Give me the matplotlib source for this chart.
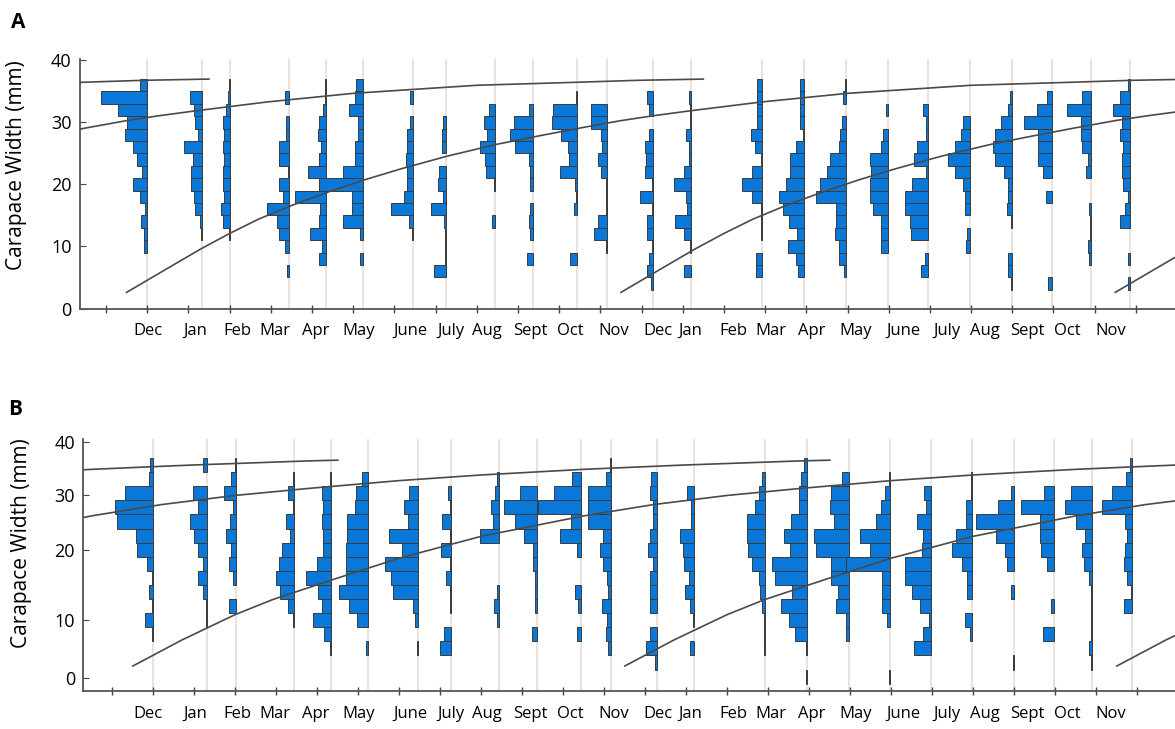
import matplotlib
matplotlib.use("Agg")
import matplotlib.pyplot as plt

# Carapace width classes (mm), 2 mm bins, class centres
size_bins = list(range(2, 38, 2))

months = ["Dec", "Jan", "Feb", "Mar", "Apr", "May", "June", "July",
          "Aug", "Sept", "Oct", "Nov"] * 2

# sampling dates, in months from the first tick of the time axis
sample_t = [1.0, 2.32, 3.02, 4.44, 5.34, 6.24, 7.46, 8.26, 9.44, 10.36, 11.44, 12.17,
            13.28, 14.2, 15.92, 16.94, 17.96, 18.98, 19.96, 20.98, 22.0, 22.96, 23.9, 24.86]

# frequencies per sample, from the 2 mm class up to the 36 mm class
freq_a = [
    [0, 0, 0, 0, 3, 3, 6, 2, 7, 14, 5, 10, 14, 22, 20, 29, 46, 7],
    [0, 0, 0, 0, 0, 1, 2, 7, 8, 11, 11, 9, 18, 4, 7, 8, 12, 0],
    [0, 0, 0, 0, 0, 1, 7, 9, 6, 7, 7, 6, 7, 6, 7, 4, 2, 1],
    [0, 0, 2, 0, 4, 10, 12, 22, 6, 10, 1, 10, 10, 3, 3, 0, 4, 0],
    [0, 0, 0, 7, 4, 16, 7, 6, 31, 7, 18, 7, 5, 8, 7, 3, 1, 1],
    [0, 0, 0, 3, 0, 3, 20, 11, 11, 44, 20, 8, 8, 5, 5, 14, 8, 7],
    [0, 0, 0, 0, 0, 1, 4, 22, 9, 6, 6, 7, 6, 6, 3, 0, 3, 0],
    [0, 0, 12, 1, 1, 1, 2, 15, 3, 8, 7, 0, 4, 4, 3, 0, 0, 0],
    [0, 0, 0, 0, 0, 0, 3, 0, 0, 1, 9, 10, 15, 8, 11, 6, 0, 0],
    [0, 0, 0, 6, 0, 3, 4, 3, 0, 3, 3, 4, 18, 23, 19, 4, 0, 0],
    [0, 0, 0, 7, 0, 0, 0, 3, 1, 2, 17, 8, 9, 16, 25, 24, 1, 0],
    [0, 0, 0, 0, 1, 13, 9, 1, 1, 1, 6, 9, 5, 6, 16, 16, 0, 0],
    [0, 2, 6, 4, 1, 6, 6, 1, 13, 1, 8, 7, 8, 4, 0, 4, 6, 0],
    [0, 0, 7, 0, 1, 7, 16, 4, 5, 17, 7, 2, 2, 5, 1, 1, 2, 0],
    [0, 0, 6, 6, 0, 1, 1, 1, 10, 20, 10, 1, 7, 11, 5, 5, 5, 5],
    [0, 0, 6, 8, 16, 7, 15, 21, 25, 18, 14, 14, 8, 1, 4, 4, 4, 4],
    [0, 0, 2, 7, 7, 11, 10, 10, 30, 26, 19, 16, 7, 6, 4, 0, 3, 1],
    [0, 0, 0, 0, 7, 7, 7, 15, 18, 18, 17, 18, 7, 5, 0, 2, 0, 0],
    [0, 0, 7, 3, 0, 17, 18, 23, 23, 16, 2, 14, 11, 2, 2, 5, 0, 0],
    [0, 0, 0, 0, 4, 3, 0, 5, 5, 7, 15, 22, 15, 9, 7, 0, 0, 0],
    [0, 1, 4, 4, 0, 0, 1, 5, 4, 4, 8, 17, 19, 17, 11, 4, 2, 0],
    [0, 4, 0, 0, 0, 0, 0, 0, 6, 0, 9, 14, 14, 14, 28, 15, 5, 0],
    [0, 0, 0, 2, 3, 1, 1, 2, 0, 0, 5, 3, 9, 10, 10, 24, 9, 0],
    [0, 2, 0, 2, 0, 0, 10, 5, 2, 7, 8, 8, 7, 10, 8, 17, 10, 2],
]

freq_b = [
    [0, 0, 0, 1, 8, 1, 4, 1, 6, 16, 17, 36, 38, 28, 4, 3, 0, 0],
    [0, 0, 0, 0, 1, 1, 4, 9, 4, 9, 13, 17, 9, 14, 0, 4, 0, 0],
    [0, 0, 0, 0, 0, 7, 0, 3, 7, 5, 10, 6, 3, 12, 5, 1, 0, 0],
    [0, 0, 0, 0, 1, 6, 14, 18, 15, 12, 4, 8, 1, 6, 1, 0, 0, 0],
    [0, 0, 1, 7, 18, 9, 13, 25, 14, 8, 8, 9, 8, 9, 1, 0, 0, 0],
    [0, 0, 2, 0, 11, 19, 29, 22, 22, 22, 21, 21, 13, 12, 6, 0, 0, 0],
    [0, 0, 1, 0, 3, 5, 25, 27, 33, 16, 29, 10, 14, 9, 0, 0, 0, 0],
    [0, 0, 11, 7, 0, 1, 1, 5, 1, 10, 1, 9, 1, 3, 0, 0, 0, 0],
    [0, 0, 0, 0, 2, 5, 2, 0, 0, 0, 19, 6, 8, 4, 2, 0, 0, 0],
    [0, 0, 0, 5, 0, 2, 2, 2, 4, 4, 13, 22, 33, 17, 0, 0, 0, 0],
    [0, 0, 0, 4, 0, 3, 6, 0, 0, 4, 21, 10, 44, 27, 9, 0, 0, 0],
    [0, 0, 3, 5, 4, 9, 3, 4, 8, 11, 8, 23, 23, 23, 5, 1, 0, 0],
    [0, 2, 11, 7, 0, 7, 7, 7, 4, 9, 7, 4, 4, 7, 6, 0, 0, 0],
    [0, 0, 5, 0, 1, 5, 10, 6, 11, 12, 15, 4, 3, 8, 0, 0, 0, 0],
    [0, 0, 1, 1, 1, 3, 5, 6, 13, 17, 18, 18, 10, 6, 3, 0, 0, 0],
    [1, 0, 1, 12, 18, 26, 15, 32, 35, 17, 23, 16, 8, 8, 6, 3, 0, 0],
    [0, 0, 0, 3, 3, 13, 11, 18, 18, 33, 35, 15, 19, 18, 7, 0, 0, 0],
    [1, 0, 0, 0, 3, 9, 9, 9, 45, 21, 31, 15, 10, 5, 1, 0, 0, 0],
    [0, 0, 17, 8, 2, 11, 19, 26, 26, 9, 8, 14, 5, 7, 0, 0, 0, 0],
    [0, 0, 0, 2, 8, 0, 5, 5, 11, 21, 17, 6, 6, 1, 1, 0, 0, 0],
    [0, 1, 0, 0, 0, 0, 3, 0, 7, 9, 18, 38, 16, 3, 0, 0, 0, 0],
    [0, 0, 0, 11, 0, 3, 0, 0, 7, 13, 14, 14, 33, 10, 0, 0, 0, 0],
    [0, 1, 3, 1, 1, 1, 1, 3, 8, 10, 7, 16, 27, 21, 0, 0, 0, 0],
    [0, 0, 0, 0, 0, 8, 1, 5, 8, 7, 5, 7, 30, 20, 6, 2, 0, 0],
]

# growth curve: age of cohort (months) vs carapace width (mm)
age_a = [0, 1.0, 1.8, 2.5, 3.2, 4.0, 4.9, 5.8, 6.7, 7.8, 9.0, 9.9, 11.0, 12.0,
         12.8, 13.7, 15.4, 17.5, 20.5, 23.0, 24.4, 26.0]
cw_a = [2.6, 6.5, 9.6, 12.1, 14.4, 16.6, 18.8, 20.8, 22.6, 24.6, 26.5, 27.7, 29.1, 30.3,
        31.1, 31.9, 33.3, 34.7, 36.0, 36.5, 36.8, 37.0]
age_b = [0, 1.2, 2.5, 3.4, 4.9, 6.5, 8.5, 11.0, 12.7, 14.5, 16.3, 18.5, 20.5, 23.0,
         25.4, 28.3, 29.0]
cw_b = [3.5, 7.2, 10.8, 12.9, 15.8, 18.8, 21.9, 24.8, 26.4, 27.7, 28.7, 29.8, 30.6, 31.4,
        32.0, 32.6, 32.7]

# recruitment date of each yearly cohort (months)
cohort_t = [-23.5, -11.5, 0.5, 12.5, 24.5]

W, H = 1175, 729
fig = plt.figure(figsize=(W / 100, H / 100), dpi=100)
plt.rcParams['font.family'] = ['Open Sans', 'DejaVu Sans']

BLUE = '#0a78d8'
px_per_month = 41.2


def panel(rect, xlim, ylim, freq, ages, cws, ytick_pos):
    ax = fig.add_axes(rect)
    for t in sample_t:
        ax.axvline(t, color='#e6dcdc', lw=1.2, zorder=0)
    for t, f in zip(sample_t, freq):
        for c, w in zip(size_bins, f):
            if w > 0:
                ax.barh(c, -w / px_per_month, left=t, height=2, color=BLUE,
                        edgecolor='#3a3a3a', linewidth=0.7, zorder=2)
    for t0 in cohort_t:
        ax.plot([t0 + a for a in ages], cws, color='#4a4a4a', lw=1.2, zorder=3)
    ax.set_xlim(*xlim)
    ax.set_ylim(*ylim)
    ax.set_xticks(range(0, 26))
    ax.set_xticklabels([])
    ax.set_yticks(ytick_pos)
    ax.set_yticklabels(['0', '10', '20', '30', '40'])
    ax.tick_params(axis='x', direction='inout', length=6, color='#444444', width=1)
    ax.tick_params(axis='y', direction='in', length=4, color='#444444', labelsize=13,
                   pad=6)
    for s in ['top', 'right']:
        ax.spines[s].set_visible(False)
    for s in ['left', 'bottom']:
        ax.spines[s].set_color('#555555')
        ax.spines[s].set_linewidth(1.3)
    ax.set_ylabel('Carapace Width (mm)', fontsize=15)
    return ax


# Panel A
axA = panel([80 / W, 1 - 308.5 / H, 1 - 80 / W, (308.5 - 59.3) / H],
            (-0.631, 25.95), (0, 40.19), freq_a, age_a, cw_a, [0, 10, 20, 30, 40])
axA.yaxis.set_label_coords(-0.048, 0.576)

# Panel B
axB = panel([83.3 / W, 1 - 690.7 / H, 1 - 83.3 / W, (690.7 - 439.3) / H],
            (-0.707, 25.92), (0, 35.66), freq_b, age_b, cw_b, [1.8, 10, 20, 27.8, 35.3])
axB.yaxis.set_label_coords(-0.047, 0.587)

# month names under each panel
label_px = [148, 195, 237, 275, 316, 359, 410, 451, 487, 530, 570, 614,
            658, 690, 733, 771, 812, 856, 903, 947, 985, 1027, 1067, 1111]
for x, m in zip(label_px, months):
    fig.text(x / W, 1 - 331 / H, m, ha='center', va='center', fontsize=12)
    fig.text(x / W, 1 - 714 / H, m, ha='center', va='center', fontsize=12)

fig.text(11 / W, 1 - 28 / H, 'A', fontsize=15, fontweight='bold', va='baseline')
fig.text(8 / W, 1 - 415 / H, 'B', fontsize=15, fontweight='bold', va='baseline')

fig.savefig('out.png', dpi=100)
